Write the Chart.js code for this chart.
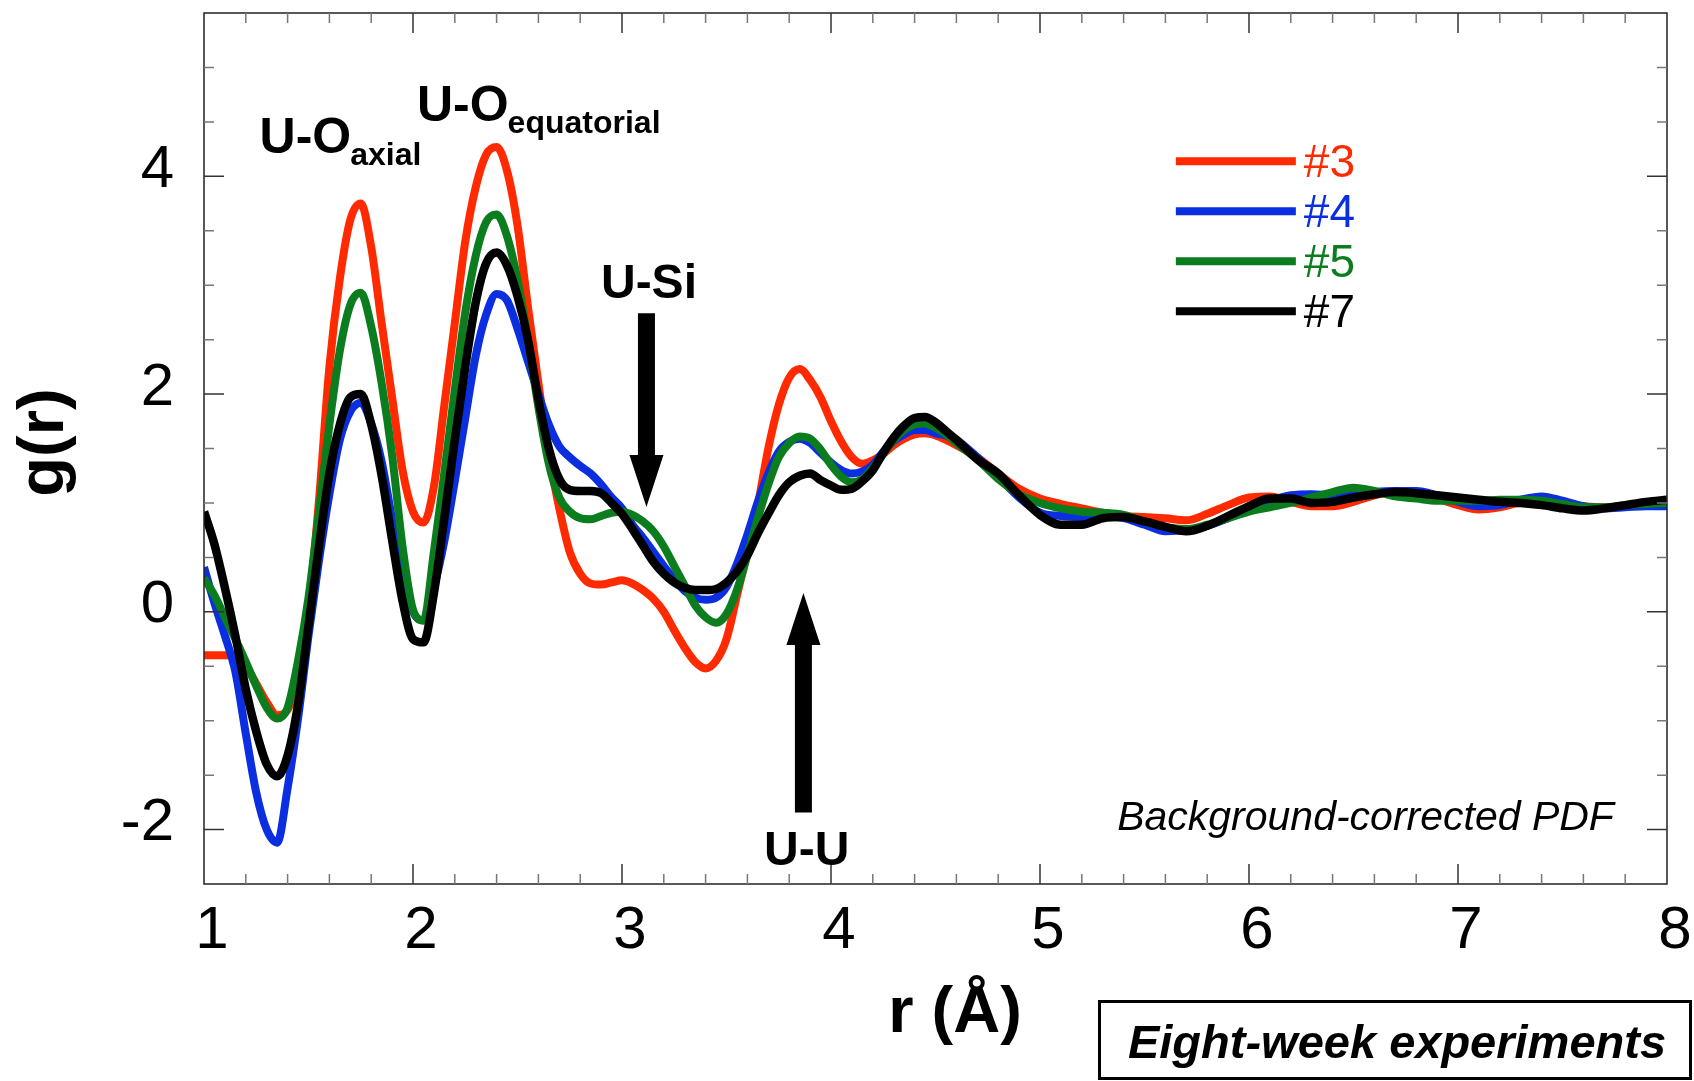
<!DOCTYPE html>
<html>
<head>
<meta charset="utf-8">
<title>g(r) – eight-week experiments</title>
<script src="https://cdn.jsdelivr.net/npm/chart.js@4.4.0/dist/chart.umd.min.js"></script>
<style>
  html, body { margin: 0; padding: 0; background: #fff; }
  canvas { display: block; }
</style>
</head>
<body>
<canvas id="pdfChart" width="1694" height="1081"></canvas>
<script>
// r grid (Å): fine steps through the first shells, coarser in the tail
const rValues = [
  1.00, 1.05, 1.10, 1.15, 1.20, 1.25, 1.30, 1.35, 1.40, 1.45,
  1.50, 1.55, 1.60, 1.65, 1.70, 1.75, 1.80, 1.85, 1.90, 1.95,
  2.00, 2.05, 2.10, 2.15, 2.20, 2.25, 2.30, 2.35, 2.40, 2.45,
  2.50, 2.55, 2.60, 2.65, 2.70, 2.75, 2.80, 2.85, 2.90, 2.95,
  3.00, 3.05, 3.10, 3.15, 3.20, 3.25, 3.30, 3.35, 3.40, 3.45,
  3.50, 3.55, 3.60, 3.65, 3.70, 3.75, 3.80, 3.85, 3.90, 3.95,
  4.00, 4.05, 4.10, 4.15, 4.20, 4.25, 4.30, 4.35, 4.40, 4.45,
  4.50, 4.55, 4.60, 4.70, 4.80, 4.90, 5.00, 5.10, 5.20, 5.30,
  5.40, 5.50, 5.60, 5.70, 5.80, 5.90, 6.00, 6.10, 6.20, 6.30,
  6.40, 6.50, 6.60, 6.70, 6.80, 6.90, 7.00, 7.10, 7.20, 7.30,
  7.40, 7.50, 7.60, 7.70, 7.80, 7.90, 8.00
];

// g(r) per sample
const g3 = [
  -0.40, -0.40, -0.40, -0.41, -0.50, -0.66, -0.83, -0.95, -0.90, -0.62,
   0.00,  1.02,  2.25,  3.06,  3.60,  3.75,  3.35,  2.65,  1.97,  1.30,
   0.92,  0.82,  1.15,  1.90,  2.65,  3.40,  3.90,  4.20,  4.27,  4.05,
   3.55,  2.80,  2.10,  1.45,  0.95,  0.55,  0.35,  0.26,  0.25,  0.27,
   0.29,  0.26,  0.20,  0.12,  0.00, -0.17, -0.33, -0.46, -0.52, -0.45,
  -0.25,  0.15,  0.55,  0.98,  1.50,  1.90,  2.15,  2.23,  2.13,  1.97,
   1.75,  1.56,  1.42,  1.36,  1.39,  1.45,  1.53,  1.59,  1.63,  1.64,
   1.62,  1.58,  1.53,  1.42,  1.27,  1.13,  1.04,  0.99,  0.95,  0.91,
   0.88,  0.87,  0.86,  0.84,  0.90,  0.98,  1.05,  1.06,  1.01,  0.97,
   0.97,  1.01,  1.07,  1.11,  1.08,  1.04,  0.98,  0.94,  0.96,  1.00,
   1.00,  0.98,  0.97,  0.96,  0.97,  0.98,  0.99
];
const g4 = [
   0.41,  0.08, -0.22, -0.55, -1.12, -1.66, -2.00, -2.12, -1.62, -0.98,
  -0.22,  0.47,  1.08,  1.58,  1.84,  1.92,  1.73,  1.38,  0.85,  0.35,
   0.00, -0.08,  0.22,  0.65,  1.20,  1.78,  2.35,  2.73,  2.92,  2.86,
   2.60,  2.30,  2.00,  1.72,  1.52,  1.42,  1.34,  1.27,  1.17,  1.05,
   0.95,  0.80,  0.68,  0.55,  0.42,  0.30,  0.19,  0.13,  0.11,  0.13,
   0.23,  0.44,  0.71,  1.01,  1.27,  1.47,  1.56,  1.59,  1.55,  1.46,
   1.37,  1.30,  1.27,  1.29,  1.35,  1.47,  1.57,  1.63,  1.67,  1.67,
   1.64,  1.62,  1.58,  1.42,  1.24,  1.05,  0.91,  0.88,  0.87,  0.88,
   0.86,  0.80,  0.74,  0.75,  0.79,  0.86,  0.94,  1.02,  1.07,  1.08,
   1.07,  1.08,  1.10,  1.11,  1.11,  1.07,  1.01,  0.97,  0.98,  1.03,
   1.06,  1.02,  0.97,  0.95,  0.96,  0.97,  0.97
];
const g5 = [
   0.31,  0.15, -0.05, -0.25, -0.46, -0.68, -0.88, -0.98, -0.88, -0.45,
   0.13,  0.92,  1.72,  2.40,  2.82,  2.93,  2.62,  2.10,  1.44,  0.60,
   0.02, -0.08,  0.55,  1.28,  2.04,  2.75,  3.27,  3.58,  3.65,  3.45,
   3.05,  2.50,  1.88,  1.36,  1.05,  0.92,  0.86,  0.85,  0.88,  0.91,
   0.92,  0.89,  0.83,  0.74,  0.60,  0.42,  0.24,  0.06, -0.05, -0.10,
  -0.02,  0.20,  0.52,  0.86,  1.17,  1.42,  1.55,  1.61,  1.59,  1.49,
   1.35,  1.24,  1.19,  1.22,  1.32,  1.45,  1.58,  1.67,  1.72,  1.73,
   1.69,  1.63,  1.55,  1.40,  1.22,  1.08,  1.00,  0.95,  0.92,  0.91,
   0.89,  0.83,  0.78,  0.76,  0.80,  0.86,  0.92,  0.96,  1.00,  1.05,
   1.10,  1.14,  1.11,  1.06,  1.04,  1.02,  1.02,  1.02,  1.03,  1.03,
   1.02,  0.99,  0.96,  0.96,  0.98,  0.99,  1.00
];
const g7 = [
   0.92,  0.62,  0.22, -0.22, -0.71, -1.10, -1.40, -1.51, -1.32, -0.85,
  -0.13,  0.60,  1.27,  1.72,  1.97,  2.00,  1.72,  1.25,  0.66,  0.10,
  -0.25, -0.28,  0.17,  0.86,  1.58,  2.25,  2.84,  3.20,  3.30,  3.18,
   2.90,  2.50,  1.95,  1.50,  1.22,  1.12,  1.11,  1.11,  1.09,  1.00,
   0.90,  0.76,  0.61,  0.46,  0.35,  0.27,  0.22,  0.20,  0.20,  0.21,
   0.27,  0.37,  0.52,  0.72,  0.90,  1.07,  1.19,  1.25,  1.27,  1.21,
   1.16,  1.12,  1.13,  1.20,  1.30,  1.46,  1.60,  1.71,  1.78,  1.79,
   1.74,  1.66,  1.58,  1.40,  1.27,  1.07,  0.89,  0.80,  0.80,  0.86,
   0.87,  0.83,  0.78,  0.74,  0.79,  0.88,  0.97,  1.04,  1.04,  1.00,
   1.01,  1.05,  1.08,  1.10,  1.09,  1.07,  1.05,  1.03,  1.01,  1.00,
   0.98,  0.95,  0.93,  0.95,  0.98,  1.01,  1.03
];

const seriesNames = ['#3', '#4', '#5', '#7'];
const seriesColors = ['#ff2a00', '#0a2ee0', '#0b7d1e', '#000000'];
const seriesValues = [g3, g4, g5, g7];

// labelled ticks
const rTicks = [1, 2, 3, 4, 5, 6, 7, 8];
const gTicks = [-2, 0, 2, 4];

const FONT = "'Liberation Sans', Arial, sans-serif";

// annotation anchors in data units (r, g)
const peakLabels = [
  { main: 'U-O', sub: 'axial', r: 1.266, g: 4.215 },
  { main: 'U-O', sub: 'equatorial', r: 2.019, g: 4.508 },
  { main: 'U-Si', r: 3.129, g: 2.878 },
  { main: 'U-U', r: 3.884, g: -2.323 }
];
const arrows = [
  { r: 3.117, from: 2.743, to: 0.963 },
  { r: 3.868, from: -1.843, to: 0.173 }
];
const legendAnchor = { r: 5.65, g: 4.139 };

function drawArrow(ctx, px, yFrom, yTip) {
  const headLen = 52, headHalf = 17, shaftHalf = 8.5;
  const dir = Math.sign(yTip - yFrom);
  const yBase = yTip - dir * headLen;
  ctx.beginPath();
  ctx.moveTo(px - shaftHalf, yFrom);
  ctx.lineTo(px + shaftHalf, yFrom);
  ctx.lineTo(px + shaftHalf, yBase);
  ctx.lineTo(px + headHalf, yBase);
  ctx.lineTo(px, yTip);
  ctx.lineTo(px - headHalf, yBase);
  ctx.lineTo(px - shaftHalf, yBase);
  ctx.closePath();
  ctx.fill();
}

const decorations = {
  id: 'decorations',
  afterDatasetsDraw(chart) {
    const { ctx, chartArea: a, scales: { x, y } } = chart;
    ctx.save();

    // frame with inward ticks on all four sides
    ctx.strokeStyle = '#222';
    ctx.lineWidth = 1.5;
    ctx.strokeRect(a.left, a.top, a.right - a.left, a.bottom - a.top);
    for (let i = 1; i < 35; i++) {
      const px = x.getPixelForValue(1 + i * 0.2);
      const len = i % 5 === 0 ? 20 : 10;
      ctx.strokeStyle = i % 5 === 0 ? '#333' : '#777';
      ctx.beginPath();
      ctx.moveTo(px, a.bottom); ctx.lineTo(px, a.bottom - len);
      ctx.moveTo(px, a.top); ctx.lineTo(px, a.top + len);
      ctx.stroke();
    }
    for (let j = 1; j < 16; j++) {
      const v = -2.5 + j * 0.5;
      const py = y.getPixelForValue(v);
      const major = v % 2 === 0;
      const len = major ? 20 : 10;
      ctx.strokeStyle = major ? '#333' : '#777';
      ctx.beginPath();
      ctx.moveTo(a.left, py); ctx.lineTo(a.left + len, py);
      ctx.moveTo(a.right, py); ctx.lineTo(a.right - len, py);
      ctx.stroke();
    }

    // peak assignments
    ctx.fillStyle = '#000';
    ctx.textBaseline = 'alphabetic';
    peakLabels.forEach(l => {
      const px = x.getPixelForValue(l.r), py = y.getPixelForValue(l.g);
      if (l.sub) {
        ctx.textAlign = 'left';
        ctx.font = 'bold 50px ' + FONT;
        ctx.fillText(l.main, px, py);
        const w = ctx.measureText(l.main).width;
        ctx.font = 'bold 32px ' + FONT;
        ctx.fillText(l.sub, px + w - 1, py + 12);
      } else {
        ctx.textAlign = 'center';
        ctx.font = 'bold 48px ' + FONT;
        ctx.fillText(l.main, px, py);
      }
    });
    arrows.forEach(ar => {
      drawArrow(ctx, x.getPixelForValue(ar.r), y.getPixelForValue(ar.from), y.getPixelForValue(ar.to));
    });

    // note in lower right of the plot
    ctx.textAlign = 'right';
    ctx.font = 'italic 41px ' + FONT;
    ctx.fillText('Background-corrected PDF', x.getPixelForValue(7.746), y.getPixelForValue(-2.002));

    // legend
    const lx = x.getPixelForValue(legendAnchor.r);
    let ly = y.getPixelForValue(legendAnchor.g);
    ctx.font = '46px ' + FONT;
    ctx.textAlign = 'left';
    ctx.textBaseline = 'middle';
    chart.data.datasets.forEach(ds => {
      ctx.strokeStyle = ds.borderColor;
      ctx.lineWidth = 8;
      ctx.beginPath();
      ctx.moveTo(lx, ly); ctx.lineTo(lx + 120, ly);
      ctx.stroke();
      ctx.fillStyle = ds.borderColor;
      ctx.fillText(ds.label, lx + 128, ly + 3);
      ly += 50;
    });

    ctx.restore();
  },
  afterDraw(chart) {
    const { ctx, chartArea: a } = chart;
    ctx.save();
    ctx.fillStyle = '#000';

    // axis titles
    ctx.font = 'bold 65px ' + FONT;
    ctx.textAlign = 'center';
    ctx.textBaseline = 'alphabetic';
    ctx.fillText('r (Å)', a.left + 751, 1032);
    ctx.save();
    ctx.translate(63, (a.top + a.bottom) / 2 - 6);
    ctx.rotate(-Math.PI / 2);
    ctx.fillText('g(r)', 0, 0);
    ctx.restore();

    // boxed caption
    ctx.strokeStyle = '#000';
    ctx.lineWidth = 3;
    ctx.strokeRect(1099.5, 1001.5, 591, 77);
    ctx.font = 'italic bold 47px ' + FONT;
    ctx.fillText('Eight-week experiments', 1397, 1058);
    ctx.restore();
  }
};

const datasets = seriesNames.map((name, k) => ({
  label: name,
  data: rValues.map((r, i) => ({ x: r, y: seriesValues[k][i] })),
  borderColor: seriesColors[k],
  backgroundColor: seriesColors[k],
  borderWidth: k === 3 ? 8.5 : 8,
  pointRadius: 0,
  fill: false,
  cubicInterpolationMode: 'monotone',
  order: 3 - k  // #7 on top, #3 underneath
}));

new Chart(document.getElementById('pdfChart'), {
  type: 'line',
  data: { datasets },
  options: {
    responsive: false,
    animation: false,
    events: [],
    layout: { padding: { top: 13, right: 27, left: 0, bottom: 0 } },
    plugins: { legend: { display: false }, tooltip: { enabled: false } },
    scales: {
      x: {
        type: 'linear',
        min: 1,
        max: 8,
        afterFit(scale) {
          scale.height = 197;
          scale.paddingLeft = 0;
          scale.paddingRight = 0;
        },
        afterBuildTicks(scale) { scale.ticks = rTicks.map(v => ({ value: v })); },
        grid: { display: false, drawTicks: false },
        border: { display: false },
        ticks: {
          font: { family: FONT, size: 60 },
          color: '#000',
          padding: 11,
          labelOffset: 8,
          maxRotation: 0,
          autoSkip: false,
          callback: v => String(v)
        }
      },
      y: {
        type: 'linear',
        min: -2.5,
        max: 5.5,
        afterFit(scale) {
          scale.width = 204;
          scale.paddingTop = 0;
          scale.paddingBottom = 0;
        },
        afterBuildTicks(scale) { scale.ticks = gTicks.map(v => ({ value: v })); },
        grid: { display: false, drawTicks: false },
        border: { display: false },
        ticks: {
          font: { family: FONT, size: 60 },
          color: '#000',
          padding: 30,
          labelOffset: -6,
          autoSkip: false,
          callback: v => String(v)
        }
      }
    }
  },
  plugins: [decorations]
});
</script>
</body>
</html>
